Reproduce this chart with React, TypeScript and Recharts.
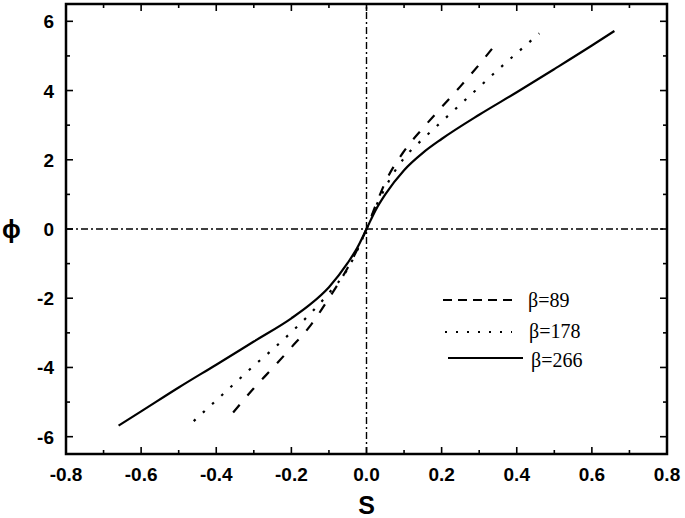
import { LineChart, Line, XAxis, YAxis, ReferenceLine, Legend } from "recharts";

// β = 89 (dashed)
const sDashed = [-0.355, -0.3, -0.25, -0.2, -0.15, -0.1, -0.05, -0.025, 0, 0.025, 0.05, 0.1, 0.15, 0.2, 0.25, 0.3, 0.352];
const phiDashed = [-5.3, -4.6, -4.02, -3.42, -2.8, -2.0, -1.12, -0.6, 0, 0.7, 1.35, 2.25, 2.91, 3.52, 4.12, 4.75, 5.45];

// β = 178 (dotted)
const sDotted = [-0.46, -0.4, -0.35, -0.3, -0.25, -0.2, -0.15, -0.1, -0.05, -0.025, 0, 0.025, 0.05, 0.1, 0.15, 0.2, 0.25, 0.3, 0.35, 0.4, 0.46];
const phiDotted = [-5.55, -4.95, -4.45, -3.95, -3.48, -2.98, -2.45, -1.85, -1.15, -0.62, 0, 0.65, 1.2, 2.05, 2.6, 3.1, 3.6, 4.1, 4.6, 5.08, 5.65];

// β = 266 (solid)
const sSolid = [-0.66, -0.6, -0.5, -0.4, -0.3, -0.2, -0.15, -0.1, -0.05, -0.025, 0, 0.025, 0.05, 0.1, 0.15, 0.2, 0.3, 0.4, 0.5, 0.6, 0.66];
const phiSolid = [-5.68, -5.27, -4.58, -3.92, -3.25, -2.58, -2.18, -1.68, -0.98, -0.55, 0, 0.56, 1.0, 1.7, 2.2, 2.6, 3.3, 3.95, 4.62, 5.3, 5.72];

const xTicks = [-0.8, -0.7, -0.6, -0.5, -0.4, -0.3, -0.2, -0.1, 0, 0.1, 0.2, 0.3, 0.4, 0.5, 0.6, 0.7, 0.8];
const xLabels = ["-0.8", "", "-0.6", "", "-0.4", "", "-0.2", "", "0.0", "", "0.2", "", "0.4", "", "0.6", "", "0.8"];
const yTicks = [-6, -5, -4, -3, -2, -1, 0, 1, 2, 3, 4, 5, 6];
const yLabels = ["-6", "", "-4", "", "-2", "", "0", "", "2", "", "4", "", "6"];
const xDomain = [-0.8, 0.8];
const yDomain = [-6.5, 6.5];

const seriesNames = ["β=89", "β=178", "β=266"];

// chart layout
const W = 685;
const H = 518;
const M = { top: 4, right: 18, bottom: 0, left: 0 };
const X_AXIS_H = 64;
const Y_AXIS_W = 66;
const PLOT_W = W - M.left - M.right - Y_AXIS_W;
const PLOT_H = H - M.top - M.bottom - X_AXIS_H;

const toRows = (s: number[], phi: number[]) => s.map((v, i) => ({ s: v, phi: phi[i] }));

const tickFont = { fontFamily: "'Liberation Sans', Arial, sans-serif", fontWeight: 700, fontSize: 19, fill: "#000" };
const serif = "'Liberation Serif', 'Times New Roman', serif";

const labelFor = (ticks: number[], labels: string[], v: number) => {
  const i = ticks.findIndex((t) => Math.abs(t - v) < 1e-6);
  return i >= 0 ? labels[i] : "";
};

// inward tick at the bottom, mirrored at the top; the first tick also draws the plot frame
const BottomTick = (props: any) => {
  const { x, y, payload } = props;
  const lab = labelFor(xTicks, xLabels, payload.value);
  const len = lab ? 7 : 4;
  const top = y - PLOT_H;
  const isFirst = Math.abs(payload.value - xDomain[0]) < 1e-6;
  return (
    <g>
      {isFirst && <rect x={x} y={top} width={PLOT_W} height={PLOT_H} fill="none" stroke="#000" strokeWidth={2.5} />}
      <line x1={x} x2={x} y1={y} y2={y - len} stroke="#000" strokeWidth={1.6} />
      <line x1={x} x2={x} y1={top} y2={top + len} stroke="#000" strokeWidth={1.6} />
      {lab && (
        <text x={x} y={y + 27} textAnchor="middle" {...tickFont}>
          {lab}
        </text>
      )}
    </g>
  );
};

const LeftTick = (props: any) => {
  const { x, y, payload } = props;
  const lab = labelFor(yTicks, yLabels, payload.value);
  const len = lab ? 7 : 4;
  const right = x + PLOT_W;
  return (
    <g>
      <line x1={x} x2={x + len} y1={y} y2={y} stroke="#000" strokeWidth={1.6} />
      <line x1={right} x2={right - len} y1={y} y2={y} stroke="#000" strokeWidth={1.6} />
      {lab && (
        <text x={x - 12} y={y + 7} textAnchor="end" {...tickFont}>
          {lab}
        </text>
      )}
    </g>
  );
};

const LegendBox = () => (
  <svg width={170} height={95} style={{ display: "block" }}>
    <line x1={3} x2={77} y1={15} y2={15} stroke="#000" strokeWidth={2} strokeDasharray="9 6" />
    <text x={88} y={22} fontFamily={serif} fontSize={20}>
      {seriesNames[0]}
    </text>
    <line x1={5} x2={72} y1={47} y2={47} stroke="#000" strokeWidth={2} strokeDasharray="2 9" />
    <text x={89} y={53} fontFamily={serif} fontSize={20}>
      {seriesNames[1]}
    </text>
    <line x1={8} x2={83} y1={73} y2={73} stroke="#000" strokeWidth={2} />
    <text x={91} y={82} fontFamily={serif} fontSize={20}>
      {seriesNames[2]}
    </text>
  </svg>
);

const titleStyle = { fontFamily: "'Liberation Sans', Arial, sans-serif", fontWeight: 700, fontSize: 25, fill: "#000" };

export default function App() {
  return (
    <div style={{ position: "absolute", left: 0, top: 0, width: W, height: H, background: "#fff" }}>
      <LineChart width={W} height={H} margin={M}>
        <XAxis
          type="number"
          dataKey="s"
          domain={xDomain}
          ticks={xTicks}
          height={X_AXIS_H}
          tickSize={0}
          tickMargin={0}
          tickLine={false}
          tick={<BottomTick />}
          interval={0}
          axisLine={false}
          label={{ value: "S", position: "insideBottom", offset: 4, style: titleStyle }}
        />
        <YAxis
          type="number"
          domain={yDomain}
          ticks={yTicks}
          width={Y_AXIS_W}
          tickSize={0}
          tickMargin={0}
          tickLine={false}
          tick={<LeftTick />}
          interval={0}
          axisLine={false}
          label={{ value: "ϕ", position: "insideLeft", offset: 2, style: titleStyle }}
        />
        <ReferenceLine x={0} stroke="#000" strokeWidth={1.4} strokeDasharray="7 3 2 3" />
        <ReferenceLine y={0} stroke="#000" strokeWidth={1.4} strokeDasharray="7 3 2 3" />
        <Line
          data={toRows(sDashed, phiDashed)}
          dataKey="phi"
          name={seriesNames[0]}
          type="monotone"
          stroke="#000"
          strokeWidth={2.2}
          strokeDasharray="10 12"
          dot={false}
          isAnimationActive={false}
        />
        <Line
          data={toRows(sDotted, phiDotted)}
          dataKey="phi"
          name={seriesNames[1]}
          type="monotone"
          stroke="#000"
          strokeWidth={2.2}
          strokeDasharray="2.5 10"
          dot={false}
          isAnimationActive={false}
        />
        <Line
          data={toRows(sSolid, phiSolid)}
          dataKey="phi"
          name={seriesNames[2]}
          type="monotone"
          stroke="#000"
          strokeWidth={2.2}
          dot={false}
          isAnimationActive={false}
        />
        <Legend
          layout="vertical"
          verticalAlign="middle"
          align="center"
          content={<LegendBox />}
          wrapperStyle={{ left: 440, top: 285, width: 170, height: 95 }}
        />
      </LineChart>
    </div>
  );
}
